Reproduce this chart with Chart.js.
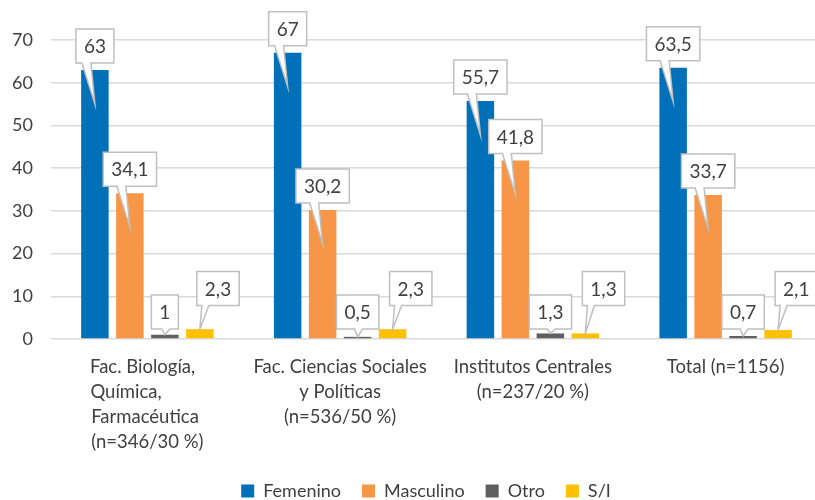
<!DOCTYPE html>
<html>
<head>
<meta charset="utf-8">
<script src="https://cdn.jsdelivr.net/npm/chart.js@4.4.0/dist/chart.umd.min.js"></script>
<style>
  html, body { margin: 0; padding: 0; background: #fff; overflow: hidden; }
  canvas { display: block; }
</style>
</head>
<body>
<canvas id="chart" width="830" height="510"></canvas>
<script>
// Chart data
const categories = [
  ['Fac. Biología,', 'Química,', 'Farmacéutica', '(n=346/30 %)'],
  ['Fac. Ciencias Sociales', 'y Políticas', '(n=536/50 %)'],
  ['Institutos Centrales', '(n=237/20 %)'],
  ['Total (n=1156)']
];
const seriesNames = ['Femenino', 'Masculino', 'Otro', 'S/I'];
const femenino = [63, 67, 55.7, 63.5];
const masculino = [34.1, 30.2, 41.8, 33.7];
const otro = [1, 0.5, 1.3, 0.7];
const sinInfo = [2.3, 2.3, 1.3, 2.1];
const yTicks = [0, 10, 20, 30, 40, 50, 60, 70];

const colors = ['#0070b8', '#f79646', '#5f5f5f', '#ffc000'];
// how each series places its callout label
const calloutMode = ['inside', 'inside', 'above', 'offset'];

const textColor = '#404040';
const gridColor = '#d9d9d9';
const fontFamily = 'Lato, "Open Sans", sans-serif';
Chart.defaults.font.family = fontFamily;
Chart.defaults.color = textColor;

const xFontSize = 18.5;

// first label is left aligned in the original: pad its lines with spaces
const alignFirstLabel = {
  id: 'alignFirstLabel',
  beforeUpdate(chart) {
    const ctx = chart.ctx;
    ctx.save();
    ctx.font = xFontSize + 'px ' + fontFamily;
    const lines = categories[0];
    const maxW = Math.max(...lines.map(l => ctx.measureText(l).width));
    const sp = ctx.measureText('\u00a0').width;
    chart.data.labels[0] = lines.map(l => {
      let s = l;
      while (ctx.measureText(s).width < maxW - sp / 2) s += '\u00a0';
      return s;
    });
    ctx.restore();
  }
};

// legend sits a bit right of the canvas centre
const legendShift = {
  id: 'legendShift',
  afterLayout(chart) {
    chart.legend.left += 15;
    chart.legend.right += 15;
  }
};

// Callout labels (box with a pointer to the bar)
const calloutPlugin = {
  id: 'callouts',
  afterDatasetsDraw(chart) {
    const ctx = chart.ctx;
    const base = chart.scales.y.getPixelForValue(0);
    ctx.save();
    ctx.font = '19px ' + fontFamily;
    ctx.textAlign = 'center';
    ctx.textBaseline = 'middle';
    chart.data.datasets.forEach((ds, i) => {
      chart.getDatasetMeta(i).data.forEach((bar, j) => {
        const text = String(ds.data[j]).replace('.', ',');
        const w = ctx.measureText(text).width + 16;
        const h = 34;
        const mode = calloutMode[i];
        let left, bottom, tipY, b1, b2;
        if (mode === 'inside') {
          left = bar.x - w / 2; bottom = bar.y - 7; tipY = bar.y + 34;
          b1 = bar.x - 13; b2 = bar.x - 4;
        } else if (mode === 'above') {
          left = bar.x - w / 2; bottom = base - 10; tipY = bar.y;
          b1 = bar.x - 3; b2 = bar.x + 5;
        } else {
          left = bar.x - 3; bottom = base - 33.5; tipY = bar.y;
          b1 = left + 5; b2 = left + 12;
        }
        const top = bottom - h;
        ctx.beginPath();
        ctx.moveTo(left, top);
        ctx.lineTo(left + w, top);
        ctx.lineTo(left + w, bottom);
        ctx.lineTo(b2, bottom);
        ctx.lineTo(bar.x, tipY);
        ctx.lineTo(b1, bottom);
        ctx.lineTo(left, bottom);
        ctx.closePath();
        ctx.fillStyle = '#ffffff';
        ctx.fill();
        ctx.strokeStyle = '#bfbfbf';
        ctx.lineWidth = 1.5;
        ctx.stroke();
        ctx.fillStyle = textColor;
        ctx.fillText(text, left + w / 2, top + h / 2 + 1);
      });
    });
    ctx.restore();
  }
};

const seriesData = [femenino, masculino, otro, sinInfo];

new Chart(document.getElementById('chart'), {
  type: 'bar',
  data: {
    labels: categories.slice(),
    datasets: seriesNames.map((name, i) => ({
      label: name,
      data: seriesData[i],
      backgroundColor: colors[i],
      categoryPercentage: 0.726,
      barPercentage: 0.786
    }))
  },
  options: {
    responsive: false,
    animation: false,
    layout: { padding: { top: 40, left: 0, right: 8, bottom: 0 } },
    plugins: {
      tooltip: { enabled: false },
      legend: {
        position: 'bottom',
        labels: {
          boxWidth: 13,
          boxHeight: 13,
          padding: 21,
          color: textColor,
          font: { size: 18 }
        }
      }
    },
    scales: {
      x: {
        grid: { display: false },
        border: { display: false },
        ticks: {
          autoSkip: false,
          maxRotation: 0,
          padding: 7.5,
          color: textColor,
          font: { size: xFontSize, lineHeight: 25 / xFontSize }
        },
        afterFit(scale) { scale.height = 122; }
      },
      y: {
        min: 0,
        max: 70,
        afterBuildTicks(scale) { scale.ticks = yTicks.map(v => ({ value: v })); },
        grid: { color: gridColor, lineWidth: 1.5, drawTicks: false },
        border: { display: false },
        ticks: {
          padding: 18,
          color: textColor,
          font: { size: 18 }
        },
        afterFit(scale) { scale.width = 51; }
      }
    }
  },
  plugins: [alignFirstLabel, legendShift, calloutPlugin]
});
</script>
</body>
</html>
